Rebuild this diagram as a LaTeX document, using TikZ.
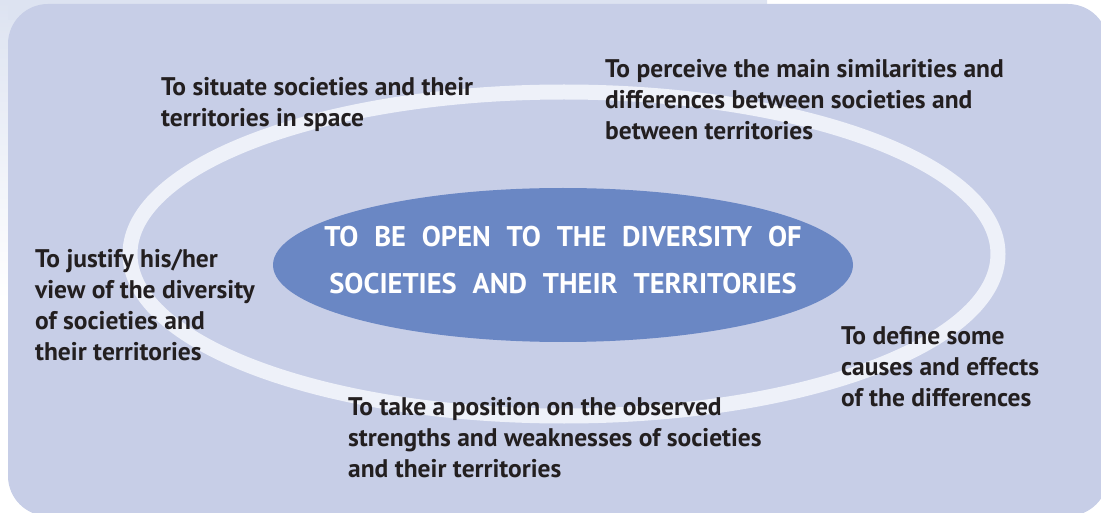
\documentclass[tikz,border=0pt]{standalone}
\usepackage{fontspec}
\setmainfont{PT Sans}
\newfontfamily\corefont[WordSpace=2.2]{PT Sans}
\usepackage{xcolor}
\usepackage{tikz}
\usetikzlibrary{positioning,shapes.geometric}
\definecolor{divpanel}{HTML}{C7CEE7}
\definecolor{divtab}{HTML}{DDE3F1}
\definecolor{divring}{HTML}{EEF1F9}
\definecolor{divcore}{HTML}{6A87C4}
\definecolor{divtext}{HTML}{231F20}
\tikzset{
  goal/.style={anchor=base west,align=left,inner sep=0pt,text=divtext,font=\fontsize{25.5}{31}\selectfont\bfseries},
  core/.style={ellipse,fill=divcore,minimum width=580pt,minimum height=154pt,inner sep=0pt},
  coretext/.style={align=center,inner sep=0pt,text=white,font=\corefont\fontsize{28.5}{47}\selectfont\bfseries},
  ring/.style={draw=divring,line width=15pt},
}

\begin{document}
\begin{tikzpicture}[x=1pt,y=-1pt]
  \useasboundingbox (0,0) rectangle (1101,513);
  \shade[top color=divtab,bottom color=white] (0,0) rectangle (767,300);
  \fill[divtab] (8,0) rectangle (767,20);
  \fill[divpanel,rounded corners=40pt] (8,4) rectangle (1108,516);
  \draw[ring] (564,254) ellipse [x radius=434, y radius=162];
  \node[core] (core) at (563,265) {};
  \node[coretext] (coretxt) at ([yshift=5pt]core.center) {TO BE OPEN TO THE DIVERSITY OF\\SOCIETIES AND THEIR TERRITORIES};
  % base of a multi-line node is its last line
  \foreach \n/\x/\y/\t in {situate/161/127/{To situate societies and their\\territories in space},
      perceive/605/140/{To perceive the main similarities and\\differences between societies and\\between territories},
      justify/35/360/{To justify his/her\\view of the diversity\\of societies and\\their territories},
      define/841/406/{To define some\\causes and effects\\of the differences},
      position/348/477/{To take a position on the observed\\strengths and weaknesses of societies\\and their territories}} {
     \node[goal] (\n) at (\x,\y) {\t};
  }
\end{tikzpicture}
\end{document}
